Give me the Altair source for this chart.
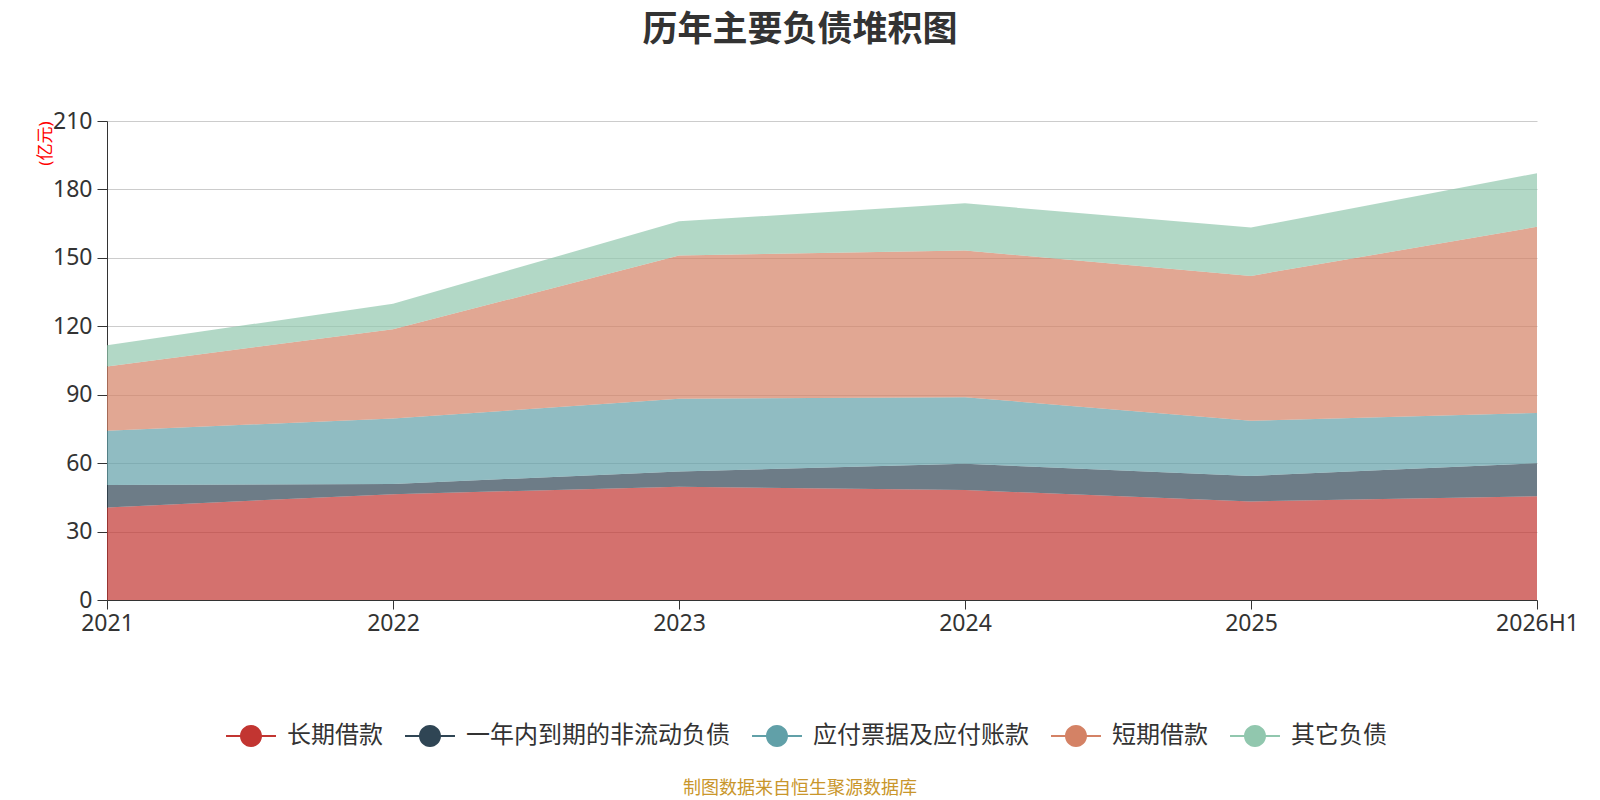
import altair as alt
import pandas as pd

years = ["2021", "2022", "2023", "2024", "2025", "2026H1"]
series_names = ["长期借款", "一年内到期的非流动负债", "应付票据及应付账款", "短期借款", "其它负债"]
long_term = [40.6, 46.4, 49.7, 48.2, 43.2, 45.5]
current_noncurrent = [9.8, 4.5, 6.6, 11.5, 11.2, 14.5]
payables = [23.8, 28.7, 31.9, 29.2, 24.2, 22.0]
short_term = [28.2, 39.1, 62.8, 64.3, 63.5, 81.6]
other = [9.3, 11.2, 15.0, 20.7, 21.2, 23.5]
colors = ["#c23531", "#2f4554", "#61a0a8", "#d48265", "#91c7ae"]
y_ticks = [0, 30, 60, 90, 120, 150, 180, 210]
footer_text = ["制图数据来自恒生聚源数据库"]

series_values = [long_term, current_noncurrent, payables, short_term, other]
rows = []
for i, name in enumerate(series_names):
    for j, yr in enumerate(years):
        rows.append({"year": yr, "series": name, "idx": i, "value": series_values[i][j]})
df = pd.DataFrame(rows)

FONT = "Noto Sans, Noto Sans CJK SC, sans-serif"
legend_symbol = "M-2.27,-0.09H2.27V0.09H-2.27Z M-1,0A1,1 0 1,1 1,0A1,1 0 1,1 -1,0Z"

area = alt.Chart(df).mark_area(opacity=0.7, interpolate="linear").encode(
    x=alt.X(
        "year:O",
        sort=years,
        scale=alt.Scale(type="point", padding=0),
        axis=alt.Axis(
            title=None, labelAngle=0, grid=False,
            domainColor="#333", tickColor="#333", tickSize=9,
            labelFontSize=23, labelFont=FONT, labelColor="#333", labelPadding=3,
        ),
    ),
    y=alt.Y(
        "value:Q",
        stack="zero",
        scale=alt.Scale(domain=[0, 210], nice=False),
        axis=alt.Axis(
            values=y_ticks, title="(亿元)", grid=True, gridColor="#cccccc",
            domainColor="#333", tickColor="#333", tickSize=10,
            labelFontSize=23, labelFont=FONT, labelColor="#333", labelPadding=5,
            titleColor="red", titleFont=FONT, titleFontSize=17, titleFontWeight="normal",
            titleAngle=270, titleX=-62, titleY=0, titleAlign="right", titleBaseline="middle",
        ),
    ),
    color=alt.Color(
        "series:N",
        sort=series_names,
        scale=alt.Scale(domain=series_names, range=colors),
        legend=alt.Legend(
            title=None, orient="none", direction="horizontal", columns=5,
            legendX=132, legendY=603, padding=0,
            symbolType=legend_symbol, symbolSize=484, symbolStrokeWidth=0, symbolOpacity=1,
            labelFontSize=24, labelFont=FONT, labelColor="#333", labelLimit=500,
            labelOffset=24, columnPadding=22,
        ),
    ),
    order=alt.Order("idx:Q", sort="ascending"),
)

footer = alt.Chart(pd.DataFrame({"t": footer_text})).mark_text(
    font=FONT, fontSize=18, color="#c9962b", align="center", baseline="middle"
).encode(x=alt.value(693), y=alt.value(668), text="t:N")

chart = alt.layer(area, footer).properties(
    width=1430,
    height=479,
    autosize=alt.AutoSizeParams(type="none"),
    padding={"left": 99, "top": 113, "right": 55, "bottom": 200},
    title=alt.TitleParams(
        "历年主要负债堆积图", fontSize=35, fontWeight="bold", color="#333", font=FONT,
        anchor="middle", frame="group", offset=62, dx=-22,
    ),
).configure_view(stroke=None)

chart.save("out.html", embed_options={"renderer": "svg", "actions": False})
